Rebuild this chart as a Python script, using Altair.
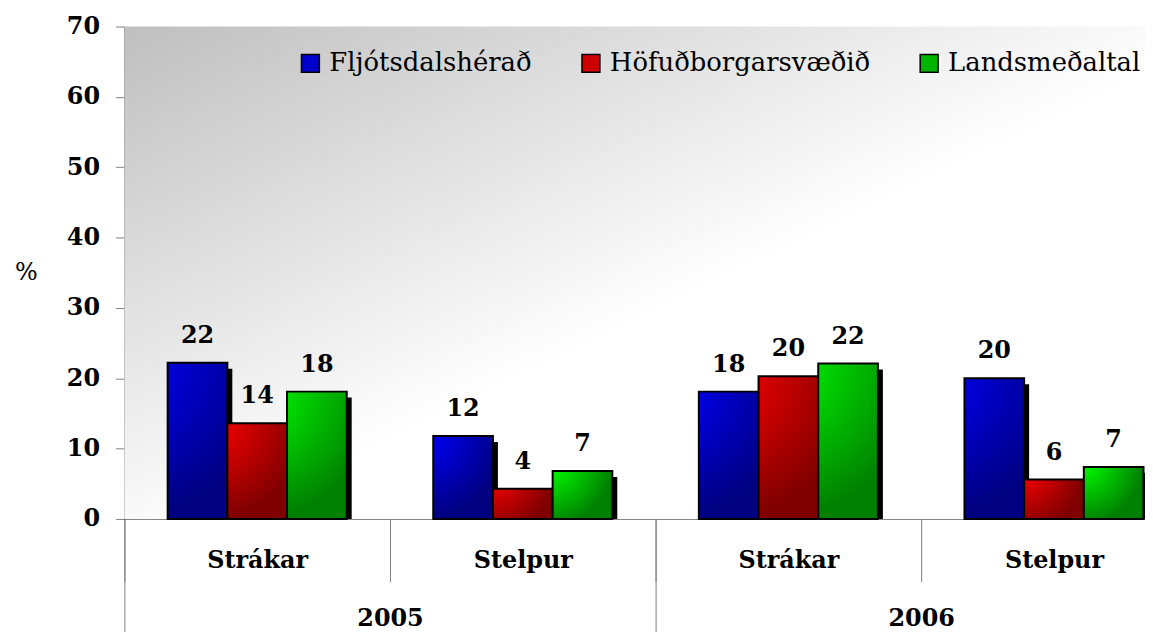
import altair as alt
import pandas as pd

# ---- data ----
years = ["2005", "2005", "2006", "2006"]
genders = ["Strákar", "Stelpur", "Strákar", "Stelpur"]
series = ["Fljótsdalshérað", "Höfuðborgarsvæðið", "Landsmeðaltal"]
fljotsdalsherad = [22.2, 11.8, 18.1, 20.0]
hofudborgarsvaedid = [13.6, 4.3, 20.3, 5.6]
landsmedaltal = [18.1, 6.8, 22.1, 7.4]
year_labels = ["2005", "2006"]
y_ticks = [0, 10, 20, 30, 40, 50, 60, 70]

cats = [f"{y} {g}" for y, g in zip(years, genders)]
rows = []
for i, cat in enumerate(cats):
    for s, vals in zip(series, [fljotsdalsherad, hofudborgarsvaedid, landsmedaltal]):
        rows.append({"cat": cat, "series": s, "value": vals[i]})
df = pd.DataFrame(rows)
years_df = pd.DataFrame({"year": year_labels})

FONT = "DejaVu Serif"
W, H = 1026, 495
RANGE = 1068
STEP = RANGE / len(cats)

bright = {"Fljótsdalshérað": "#0000ff", "Höfuðborgarsvæðið": "#ff0000", "Landsmeðaltal": "#00ff00"}
dark = {"Fljótsdalshérað": "#000080", "Höfuðborgarsvæðið": "#800000", "Landsmeðaltal": "#008000"}
flat = ["#0000cc", "#cc0000", "#00b400"]

x_enc = alt.X(
    "cat:N",
    sort=cats,
    scale=alt.Scale(domain=cats, range=[0, RANGE], paddingInner=0, paddingOuter=0),
    axis=alt.Axis(
        title=None,
        labelExpr="split(datum.label, ' ')[1]",
        tickBand="extent",
        tickSize=63,
        tickColor="#808080",
        domainColor="#808080",
        labelPadding=-33,
        labelFont=FONT,
        labelFontSize=24,
        labelFontWeight="bold",
        labelColor="black",
        labelAngle=0,
    ),
)


def xoff(shift=0):
    return alt.XOffset(
        "series:N",
        sort=series,
        scale=alt.Scale(
            type="band",
            domain=series,
            paddingInner=0,
            paddingOuter=0.725,
            range=[shift, STEP + shift],
        ),
    )


y_enc = alt.Y(
    "value:Q",
    scale=alt.Scale(domain=[0, 70], nice=False, zero=True),
    axis=alt.Axis(
        values=y_ticks,
        title="%",
        titleAngle=0,
        titleFont=FONT,
        titleFontSize=24,
        titleFontWeight="normal",
        titleColor="black",
        titleX=-99,
        titleY=247,
        titleAlign="center",
        titleBaseline="middle",
        tickSize=9,
        tickColor="#808080",
        domainColor="#404040",
        labelPadding=16,
        labelFont=FONT,
        labelFontSize=24,
        labelFontWeight="bold",
        labelColor="black",
        grid=False,
    ),
)

background = alt.Chart(alt.Data(values=[{}])).mark_rect(
    color=alt.LinearGradient(
        gradient="linear",
        stops=[
            alt.GradientStop(color="#bfbfbf", offset=0),
            alt.GradientStop(color="#ffffff", offset=0.55),
            alt.GradientStop(color="#ffffff", offset=1),
        ],
        x1=0, y1=0, x2=1, y2=1,
    )
).encode(x=alt.value(0), x2=alt.value("width"), y=alt.value(0), y2=alt.value("height"))

shadows = alt.Chart(df).mark_bar(color="black", yOffset=6).encode(
    x=x_enc, xOffset=xoff(5), y=y_enc, y2=alt.datum(0)
)

bar_layers = []
for s in series:
    grad = alt.RadialGradient(
        gradient="radial",
        stops=[
            alt.GradientStop(color=bright[s], offset=0),
            alt.GradientStop(color=dark[s], offset=1),
        ],
        x1=0, y1=0, r1=0, x2=0, y2=0, r2=1,
    )
    bar_layers.append(
        alt.Chart(df)
        .transform_filter(alt.datum.series == s)
        .mark_bar(fill=grad, stroke="black", strokeWidth=2)
        .encode(x=x_enc, xOffset=xoff(), y=y_enc)
    )

labels = alt.Chart(df).mark_text(
    font=FONT, fontSize=24, fontWeight="bold", color="black", dy=-20, baseline="alphabetic"
).encode(x=x_enc, xOffset=xoff(), y=y_enc, text=alt.Text("value:Q", format=".0f"))

legend_layer = alt.Chart(df).transform_filter("false").mark_square(
    opacity=1, filled=True, stroke="black", strokeWidth=1.5
).encode(
    color=alt.Color(
        "series:N",
        scale=alt.Scale(domain=series, range=flat),
        legend=alt.Legend(
            title=None,
            orient="none",
            direction="horizontal",
            legendX=174,
            legendY=24,
            padding=0,
            symbolType="square",
            symbolSize=324,
            symbolStrokeColor="black",
            symbolStrokeWidth=1.5,
            symbolOpacity=1,
            labelFont=FONT,
            labelFontSize=26,
            labelColor="black",
            labelOffset=6,
            labelLimit=0,
            columnPadding=46,
        ),
    )
)

inner = alt.layer(background, shadows, *bar_layers, labels, legend_layer).resolve_scale(
    xOffset="independent"
)

year_layer = alt.Chart(years_df).mark_text(opacity=0).encode(
    x=alt.X(
        "year:N",
        sort=year_labels,
        scale=alt.Scale(domain=year_labels, range=[0, RANGE], paddingInner=0, paddingOuter=0),
        axis=alt.Axis(
            title=None,
            orient="bottom",
            tickBand="extent",
            tickSize=117,
            tickColor="#808080",
            domain=False,
            labelPadding=-29,
            labelFont=FONT,
            labelFontSize=24,
            labelFontWeight="bold",
            labelColor="black",
            labelAngle=0,
        ),
    ),
    text=alt.Text("year:N"),
)

chart = (
    alt.layer(inner, year_layer)
    .resolve_scale(x="independent")
    .properties(
        width=W,
        height=H,
        autosize=alt.AutoSizeParams(type="none"),
        padding={"left": 117, "top": 17, "right": 0, "bottom": 112},
        background="white",
    )
    .configure_view(stroke=None)
)

chart.save("out.html", embed_options={"renderer": "svg", "actions": False})
